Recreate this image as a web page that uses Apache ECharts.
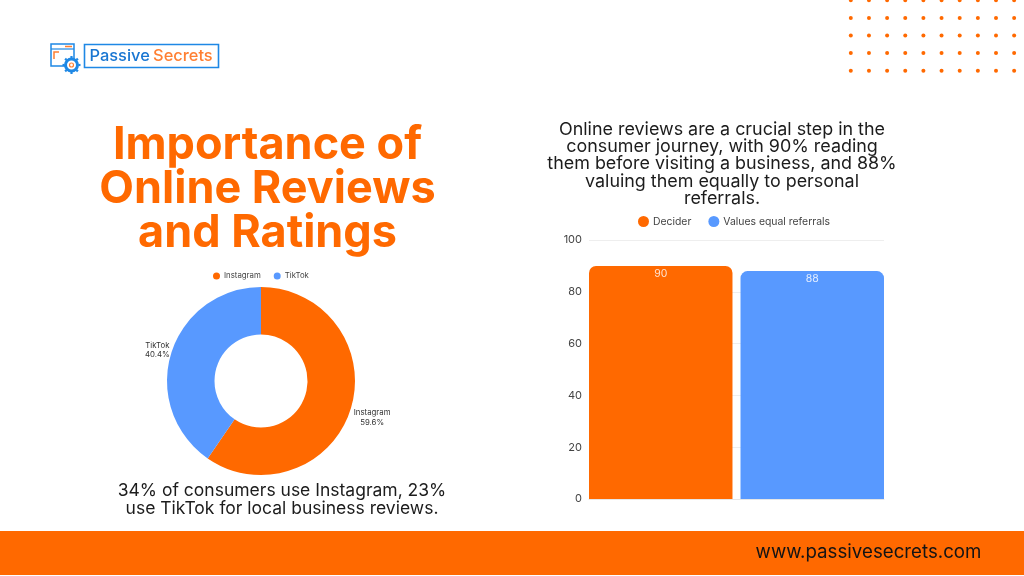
<!DOCTYPE html>
<html><head><meta charset="utf-8">
<style>html,body{margin:0;padding:0;background:#fff}#c{width:1024px;height:576px}</style>
<script src="https://cdn.jsdelivr.net/npm/echarts@6/dist/echarts.min.js"></script>
</head><body><div id="c"></div>
<script>
const pieNames = ['Instagram', 'TikTok'];
const pieValues = [59.6, 40.4];
const barSeriesNames = ['Decider', 'Values equal referrals'];
const deciderValues = [90];
const referralValues = [88];
const barCategories = ['Consumers'];
const titleLines = ['Importance of', 'Online Reviews', 'and Ratings'];
const rightLines = ['Online reviews are a crucial step in the', 'consumer journey, with 90% reading', 'them before visiting a business, and 88%', 'valuing them equally to personal', 'referrals.'];
const leftLines = ['34% of consumers use Instagram, 23%', 'use TikTok for local business reviews.'];
const footerText = 'www.passivesecrets.com';
const ORANGE = '#FF6900', BLUE = '#5899FF', LOGO = '#1E88E5', FONT = 'Inter';

const g = [];
function txt(x, y, text, size, fill, weight, align) {
  g.push({type:'text', x, y, silent:true, style:{text, fontSize:size, fill, fontFamily:FONT, fontWeight:weight||400, align:align||'center', verticalAlign:'middle'}});
}
// footer
g.push({type:'rect', shape:{x:0,y:531,width:1024,height:44}, style:{fill:ORANGE}});
txt(868.5, 552.5, footerText, 18.7, '#141414', 400);
// decorative dots
for (let c=0;c<10;c++) for (let r=0;r<5;r++)
  g.push({type:'circle', shape:{cx:850.8+c*18.15, cy:0.3+r*17.6, r:2}, style:{fill:ORANGE}});
// headings
titleLines.forEach((t,i)=>txt(267.5,145+i*44,t,45,ORANGE,700));
rightLines.forEach((t,i)=>txt(722,129.5+i*17.3,t,17.9,'#1c1c1c',400));
leftLines.forEach((t,i)=>txt(282,490.5+i*18,t,17.5,'#1c1c1c',400));
// logo
g.push({type:'rect', shape:{x:84.5,y:44.5,width:134,height:23}, style:{fill:'#fff',stroke:LOGO,lineWidth:1.6}});
g.push({type:'text', x:89.5, y:56, silent:true, style:{
  text:'{a|Passive} {b|Secrets}', verticalAlign:'middle',
  rich:{a:{fill:'#1976D2',fontSize:16.4,fontWeight:500,fontFamily:FONT},b:{fill:'#FF7F32',fontSize:16.4,fontWeight:500,fontFamily:FONT}}}});
g.push({type:'rect', shape:{x:51,y:44,width:23,height:22}, style:{fill:'none',stroke:LOGO,lineWidth:1.5}});
g.push({type:'line', shape:{x1:51,y1:49,x2:74,y2:49}, style:{stroke:LOGO,lineWidth:1.2}});
g.push({type:'line', shape:{x1:65,y1:46.5,x2:72,y2:46.5}, style:{stroke:'#FF7F32',lineWidth:1.5}});
g.push({type:'polyline', shape:{points:[[54,59],[54,52],[59,52]]}, style:{fill:'none',stroke:'#FF7F32',lineWidth:1.5}});
g.push({type:'circle', shape:{cx:71.5,cy:65,r:6}, style:{fill:'#fff',stroke:LOGO,lineWidth:3}});
g.push({type:'circle', shape:{cx:71.5,cy:65,r:2}, style:{fill:'#fff',stroke:'#FF7F32',lineWidth:1.2}});
for (let a=0;a<8;a++){const t=a*Math.PI/4;
  g.push({type:'line', shape:{x1:71.5+7*Math.cos(t),y1:65+7*Math.sin(t),x2:71.5+9*Math.cos(t),y2:65+9*Math.sin(t)}, style:{stroke:LOGO,lineWidth:2.2}});}

const labelNudge = [{dx:13.5,dy:8,align:'center'},{dx:-6,dy:-2,align:'center'}];
const option = {
  animation:false,
  backgroundColor:'#fff',
  textStyle:{fontFamily:FONT},
  graphic:{elements:g},
  legend:[
    {data:pieNames, left:208, top:267, icon:'circle', itemWidth:7, itemHeight:7, itemGap:13,
     textStyle:{fontSize:7.8,color:'#444',fontFamily:FONT,padding:[0,0,0,-1]}},
    {data:barSeriesNames, left:633, top:211, icon:'circle', itemWidth:11, itemHeight:11, itemGap:17,
     textStyle:{fontSize:10.4,color:'#444',fontFamily:FONT,padding:[0,0,0,-1]}}
  ],
  grid:{left:589, top:240, width:295, height:259, containLabel:false},
  xAxis:{type:'category', data:barCategories, axisLabel:{show:false}, axisTick:{show:false},
    axisLine:{lineStyle:{color:'#e6e6e6'}}},
  yAxis:{type:'value', min:0, max:100, interval:20, axisLine:{show:false}, axisTick:{show:false},
    axisLabel:{fontSize:11,color:'#444',fontFamily:FONT,margin:7,padding:[2,0,0,0]},
    splitLine:{lineStyle:{color:'#eeeeee'}}},
  series:[
    {name:barSeriesNames[0], type:'bar', data:deciderValues, barCategoryGap:'0%', barGap:'5.6%',
     itemStyle:{color:ORANGE,borderRadius:[7,7,0,0]},
     label:{show:true,position:'insideTop',distance:2,color:'#ffe3d0',fontSize:10.5,fontFamily:FONT}},
    {name:barSeriesNames[1], type:'bar', data:referralValues,
     itemStyle:{color:BLUE,borderRadius:[7,7,0,0]},
     label:{show:true,position:'insideTop',distance:2,color:'#e4eeff',fontSize:10.5,fontFamily:FONT}},
    {type:'pie', center:[261,381], radius:[46.5,94], startAngle:90, clockwise:true,
     data:pieNames.map((n,i)=>({name:n,value:pieValues[i],itemStyle:{color:[ORANGE,BLUE][i]}})),
     label:{show:true,formatter:'{b}\n{d}%',fontSize:7.8,lineHeight:9.5,color:'#333',fontFamily:FONT,align:'center'},
     labelLine:{show:false,length:3,length2:0},
     labelLayout:p=>labelNudge[p.dataIndex],
     emphasis:{disabled:true}}
  ]
};
echarts.init(document.getElementById('c'),null,{renderer:'canvas'}).setOption(option);
</script></body></html>
